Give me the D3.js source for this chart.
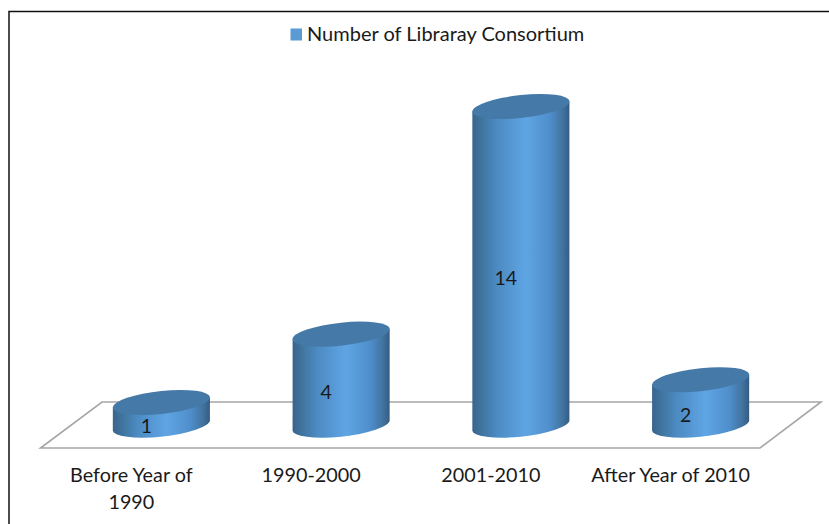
<!DOCTYPE html>
<html>
<head>
<meta charset="utf-8">
<style>
    html, body { margin: 0; padding: 0; background: #fff; }
    svg { display: block; }
    text { font-family: Lato, "Open Sans", sans-serif; fill: #1a1a1a; }
</style>
<script src="https://d3js.org/d3.v7.min.js"></script>
</head>
<body>
<div id="container"></div>
<script>
// chart data
var categories = ["Before Year of 1990", "1990-2000", "2001-2010", "After Year of 2010"];
var consortia = [1, 4, 14, 2];
var seriesName = "Number of Libraray Consortium";

// set variables for further use
var canvasX = 829;
var canvasY = 524;
var radiusY = 11.5;
var skew = -5 / 48.5;
var valueShift = -15;
var labelShift = -30;

var svg = d3.select("#container")
            .append("svg")
            .attr("width", canvasX)
            .attr("height", canvasY);

// side gradient of the cylinders
var grad = svg.append("defs")
              .append("linearGradient")
              .attr("id", "side");
[[0, "#39648c"], [0.1, "#40759f"], [0.25, "#4c8ac2"], [0.55, "#5fa5e4"],
 [0.8, "#4f8ecb"], [0.93, "#41739f"], [1, "#345c82"]].forEach(function(s) {
    grad.append("stop").attr("offset", s[0]).attr("stop-color", s[1]);
});

// scales
var xScale = d3.scaleBand()
               .domain(categories)
               .range([71.5, 790.5])
               .paddingInner(0.46)
               .paddingOuter(0.23);

var yScale = d3.scaleLinear()
               .domain([0, 14])
               .range([425.2, 106.5]);

// black picture frame, left and top only
svg.append("path")
   .attr("d", "M9,524V11.5H829")
   .attr("fill", "none")
   .attr("stroke", "#111")
   .attr("stroke-width", 1.5);

// floor of the 3d chart
svg.append("path")
   .attr("d", d3.line()([[40.5, 448], [760, 448], [821, 402], [102, 402]]) + "Z")
   .attr("fill", "#fff")
   .attr("stroke", "#a6a6a6")
   .attr("stroke-width", 1.6);

// cylinders
var rx = xScale.bandwidth() / 2;
var bars = svg.selectAll(".bar")
              .data(consortia)
              .enter()
              .append("g")
              .attr("class", "bar")
              .attr("transform", function(d, i) {
                  return "translate(" + (xScale(categories[i]) + rx) + "," + yScale(0) + ") matrix(1," + skew + ",0,1,0,0)";
              });

bars.append("path")
    .attr("fill", "url(#side)")
    .attr("d", function(d) {
        var top = yScale(d) - yScale(0);
        return "M" + (-rx) + "," + top + "V0A" + rx + "," + radiusY + " 0 0 0 " + rx + ",0V" + top + "Z";
    });

bars.append("ellipse")
    .attr("cx", 0)
    .attr("cy", function(d) { return yScale(d) - yScale(0); })
    .attr("rx", rx)
    .attr("ry", radiusY)
    .attr("fill", "#4479a8");

// value labels
svg.selectAll(".value")
   .data(consortia)
   .enter()
   .append("text")
   .attr("class", "value")
   .attr("x", function(d, i) { return xScale(categories[i]) + rx + valueShift; })
   .attr("y", function(d) { return (yScale(d) + yScale(0)) / 2 + 12.5; })
   .attr("dy", "0.35em")
   .attr("text-anchor", "middle")
   .attr("font-size", 19.5)
   .text(function(d) { return d; });

// category axis
var axis = svg.append("g")
              .attr("transform", "translate(" + labelShift + ",461)")
              .call(d3.axisBottom(xScale).tickSize(0).tickPadding(0));
axis.select(".domain").remove();
axis.selectAll("text").remove();
axis.selectAll(".tick")
    .append("text")
    .attr("text-anchor", "middle")
    .attr("font-size", 19.8)
    .each(function(d) {
        var lines = d == categories[0] ? ["Before Year of", "1990"] : [d];
        d3.select(this).selectAll("tspan")
          .data(lines)
          .enter()
          .append("tspan")
          .attr("x", 0)
          .attr("y", function(l, i) { return 21 + i * 27; })
          .text(function(l) { return l; });
    });

// legend
svg.append("rect")
   .attr("x", 290.5)
   .attr("y", 28.5)
   .attr("width", 11.5)
   .attr("height", 12)
   .attr("fill", "#5b9bd5");
svg.append("text")
   .attr("x", 307)
   .attr("y", 40.5)
   .attr("font-size", 20)
   .text(seriesName);
</script>
</body>
</html>
